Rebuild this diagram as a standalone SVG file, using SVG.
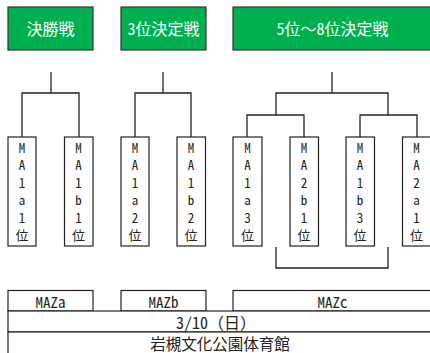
<svg xmlns="http://www.w3.org/2000/svg" width="430" height="353" viewBox="0 0 430 353">
<style>
.g{fill:#00b050;stroke:#333;stroke-width:1.2}
.gt{fill:#fff;font-family:"Noto Sans Mono CJK JP","Noto Sans CJK JP",sans-serif;font-size:16px;text-anchor:middle;dominant-baseline:central}
.b{fill:#fff;stroke:#222;stroke-width:1.2}
.vt{fill:#222;font-family:"Noto Sans Mono CJK JP","Noto Sans CJK JP",sans-serif;font-size:13px;text-anchor:middle;dominant-baseline:central}
.tt{fill:#222;font-family:"Noto Sans Mono CJK JP","Noto Sans CJK JP",sans-serif;text-anchor:middle;dominant-baseline:central}
.c{fill:none;stroke:#222;stroke-width:1.3}
</style>
<rect width="430" height="353" fill="#fff"/>
<g id="h1"><rect class="g" x="8" y="7" width="85" height="43"/><text class="gt" x="50.5" y="28">決勝戦</text></g>
<g id="h2"><rect class="g" x="121" y="7" width="85" height="43"/><text class="gt" x="163.5" y="28">3位決定戦</text></g>
<g id="h3"><rect class="g" x="233" y="7" width="199" height="43"/><text class="gt" x="332.5" y="28">5位～8位決定戦</text></g>
<g id="connectors">
<path class="c" d="M51,72V93M22,137V93H79V137"/>
<path class="c" d="M163,72V93M135,137V93H191V137"/>
<path class="c" d="M332,72V93M276,115V93H388V115M247,137V115H304V137M360,137V115H417V137"/>
<path class="c" d="M276,247V268H388V247"/>
</g>
<g id="n1"><rect class="b" x="8" y="137" width="28" height="109"/><text class="vt"><tspan x="22" y="146.5">M</tspan><tspan x="22" y="164">A</tspan><tspan x="22" y="181.5">1</tspan><tspan x="22" y="199">a</tspan><tspan x="22" y="216.5">1</tspan><tspan x="22" y="234">位</tspan></text></g>
<g id="n2"><rect class="b" x="64.5" y="137" width="28.5" height="109"/><text class="vt"><tspan x="78.5" y="146.5">M</tspan><tspan x="78.5" y="164">A</tspan><tspan x="78.5" y="181.5">1</tspan><tspan x="78.5" y="199">b</tspan><tspan x="78.5" y="216.5">1</tspan><tspan x="78.5" y="234">位</tspan></text></g>
<g id="n3"><rect class="b" x="121" y="137" width="28" height="109"/><text class="vt"><tspan x="135" y="146.5">M</tspan><tspan x="135" y="164">A</tspan><tspan x="135" y="181.5">1</tspan><tspan x="135" y="199">a</tspan><tspan x="135" y="216.5">2</tspan><tspan x="135" y="234">位</tspan></text></g>
<g id="n4"><rect class="b" x="177" y="137" width="28.5" height="109"/><text class="vt"><tspan x="191" y="146.5">M</tspan><tspan x="191" y="164">A</tspan><tspan x="191" y="181.5">1</tspan><tspan x="191" y="199">b</tspan><tspan x="191" y="216.5">2</tspan><tspan x="191" y="234">位</tspan></text></g>
<g id="n5"><rect class="b" x="233" y="137" width="29" height="109"/><text class="vt"><tspan x="247.5" y="146.5">M</tspan><tspan x="247.5" y="164">A</tspan><tspan x="247.5" y="181.5">1</tspan><tspan x="247.5" y="199">a</tspan><tspan x="247.5" y="216.5">3</tspan><tspan x="247.5" y="234">位</tspan></text></g>
<g id="n6"><rect class="b" x="290" y="137" width="28.5" height="109"/><text class="vt"><tspan x="304" y="146.5">M</tspan><tspan x="304" y="164">A</tspan><tspan x="304" y="181.5">2</tspan><tspan x="304" y="199">b</tspan><tspan x="304" y="216.5">1</tspan><tspan x="304" y="234">位</tspan></text></g>
<g id="n7"><rect class="b" x="346" y="137" width="28.5" height="109"/><text class="vt"><tspan x="360" y="146.5">M</tspan><tspan x="360" y="164">A</tspan><tspan x="360" y="181.5">1</tspan><tspan x="360" y="199">b</tspan><tspan x="360" y="216.5">3</tspan><tspan x="360" y="234">位</tspan></text></g>
<g id="n8"><rect class="b" x="402.5" y="137" width="29" height="109"/><text class="vt"><tspan x="416.5" y="146.5">M</tspan><tspan x="416.5" y="164">A</tspan><tspan x="416.5" y="181.5">2</tspan><tspan x="416.5" y="199">a</tspan><tspan x="416.5" y="216.5">1</tspan><tspan x="416.5" y="234">位</tspan></text></g>
<g id="tbl">
<rect class="b" x="8" y="290.5" width="85" height="20.5"/><text class="tt" x="50.5" y="301" font-size="15">MAZa</text>
<rect class="b" x="121" y="290.5" width="85" height="20.5"/><text class="tt" x="163.5" y="301" font-size="15">MAZb</text>
<rect class="b" x="233" y="290.5" width="210" height="20.5"/><text class="tt" x="332.5" y="301" font-size="15">MAZc</text>
<rect class="b" x="8" y="311" width="435" height="21"/><text class="tt" x="216" y="321.5" font-size="16">3/10（日）</text>
<rect class="b" x="8" y="332" width="435" height="30"/><text class="tt" x="220" y="343" font-size="15.5">岩槻文化公園体育館</text>
</g>
</svg>
